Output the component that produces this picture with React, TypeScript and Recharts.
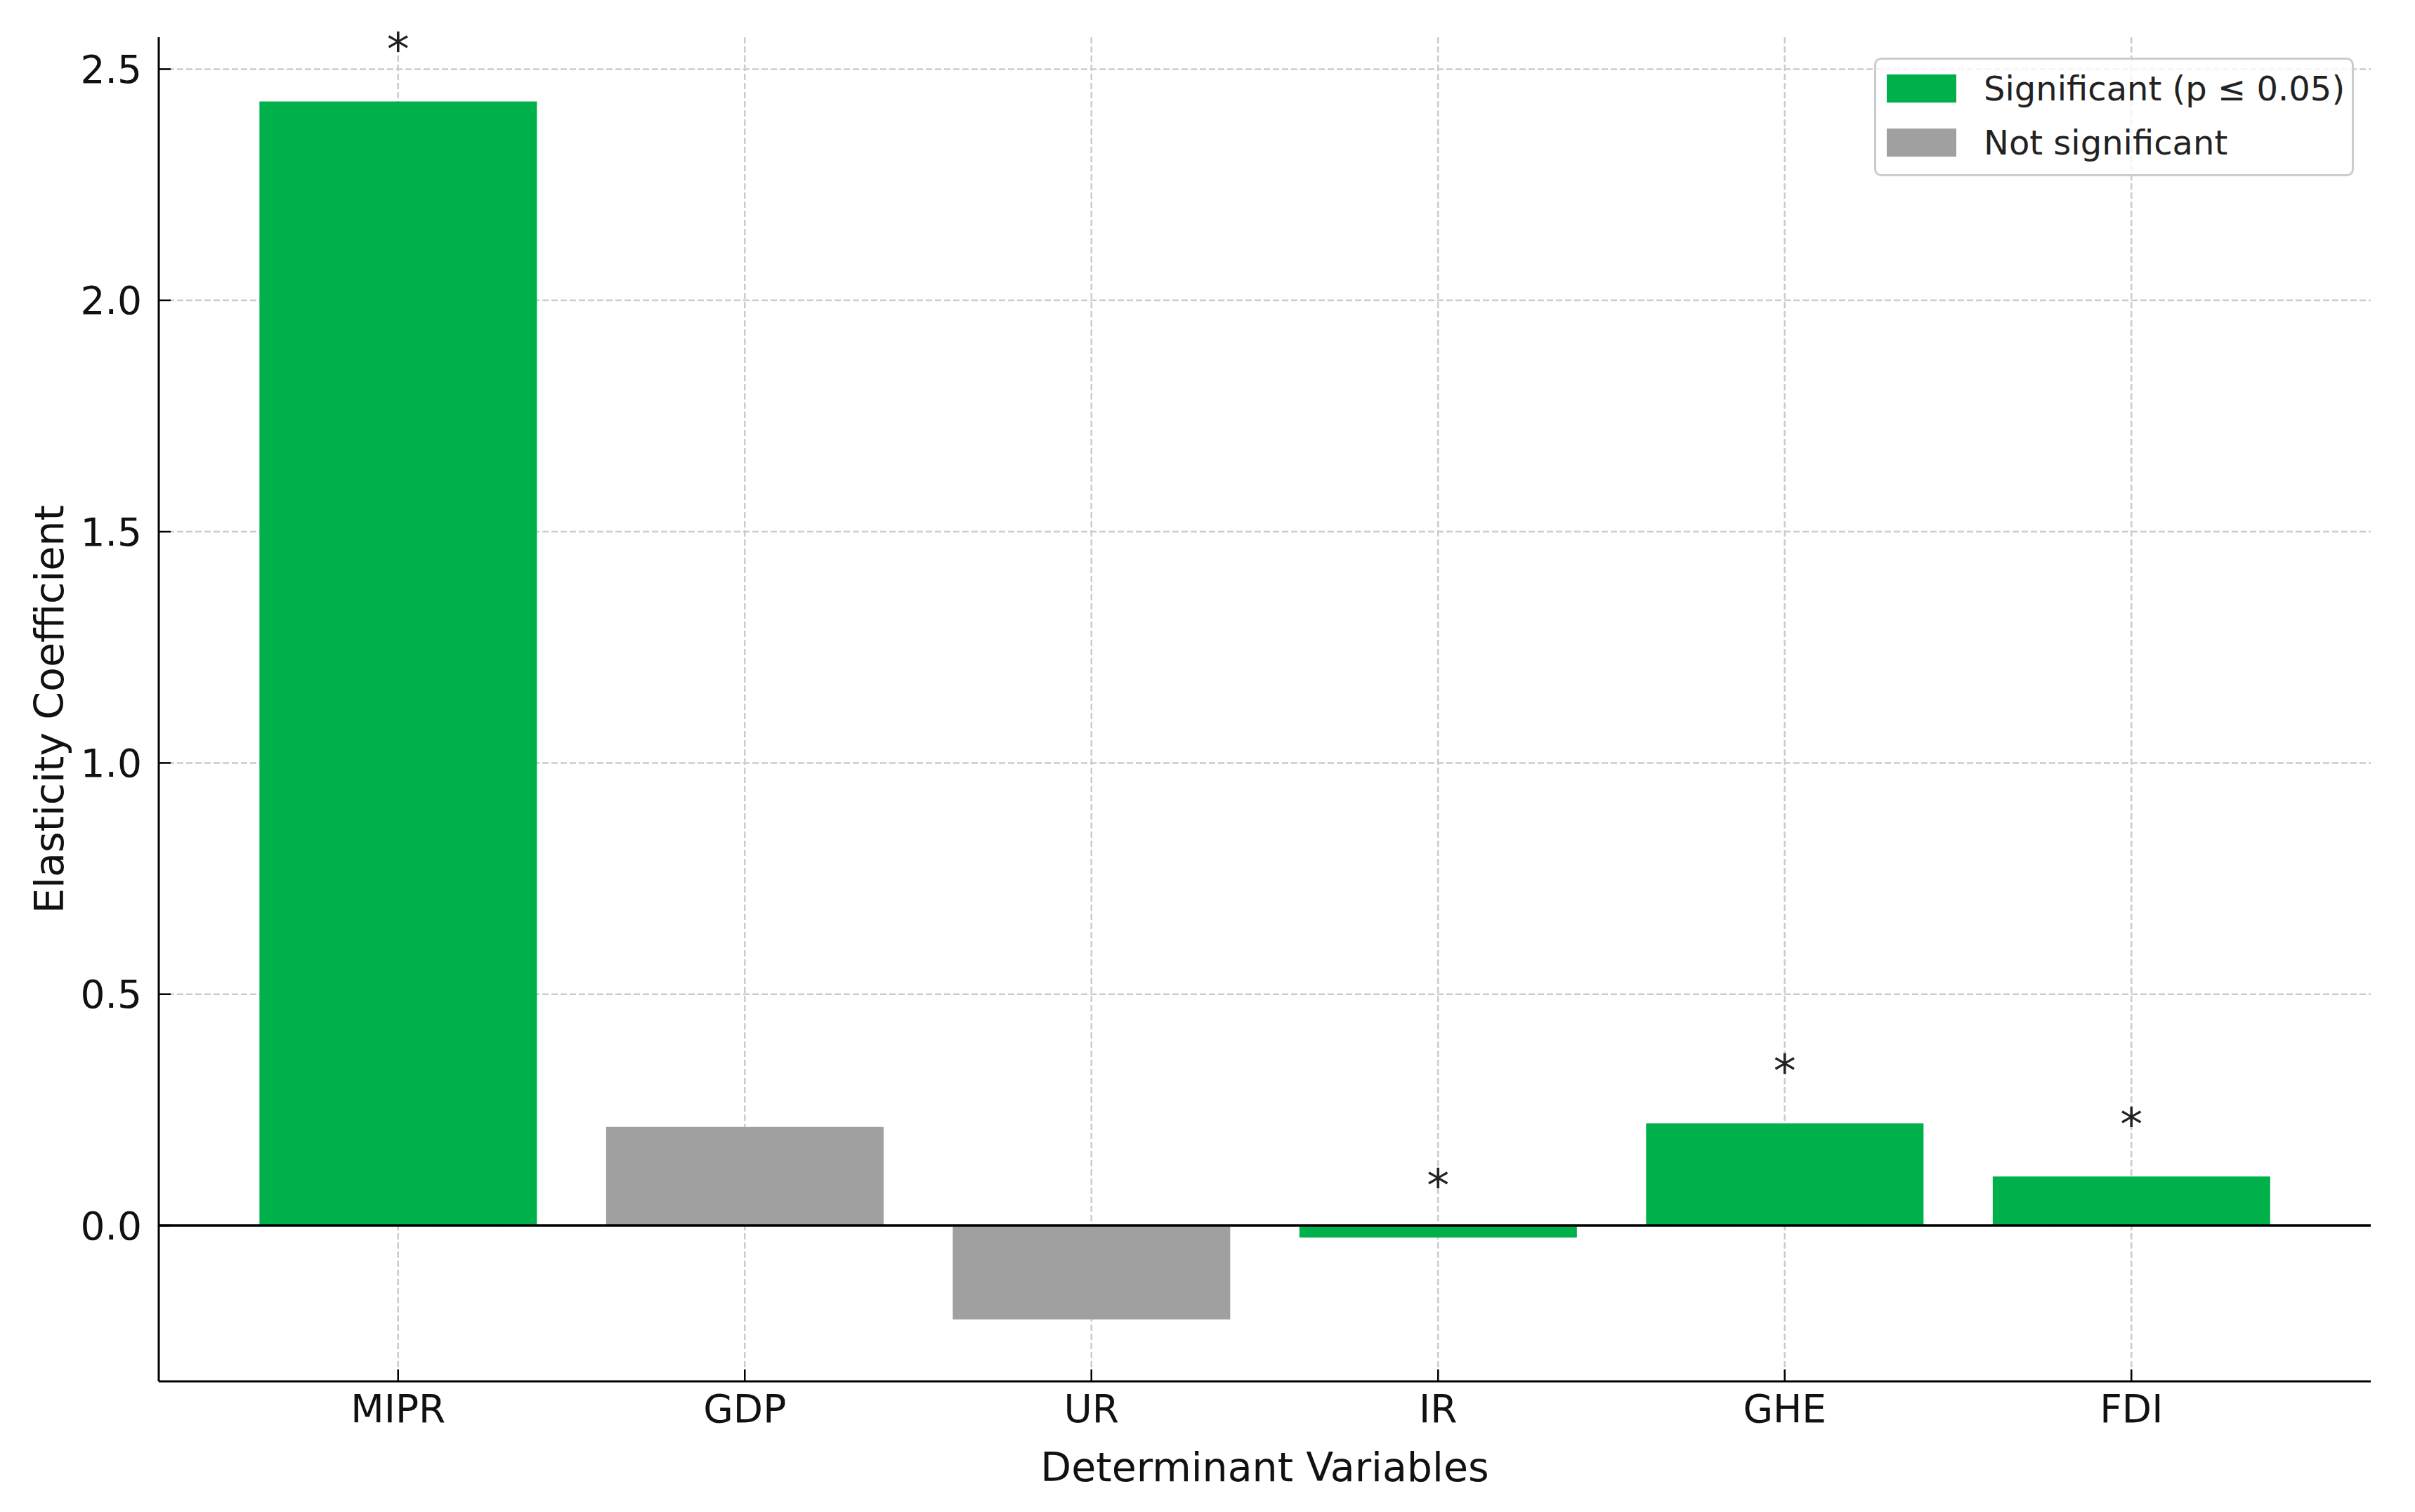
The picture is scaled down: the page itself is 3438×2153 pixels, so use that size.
import React from 'react';
import { ComposedChart, Bar, Cell, Line, XAxis, YAxis, CartesianGrid, ReferenceLine, Legend, Label } from 'recharts';

// values
const categories = ['MIPR', 'GDP', 'UR', 'IR', 'GHE', 'FDI'];
const coefficients = [2.43, 0.213, -0.203, -0.026, 0.221, 0.106];
const significant = [true, false, false, true, true, true];
const yTicks = [0, 0.5, 1.0, 1.5, 2.0, 2.5];
const yDomain = [-0.337, 2.569];
const starOffset = 0.13;

const GREEN = '#00b04a';
const GRAY = '#a0a0a0';
const FONT = '"DejaVu Sans", Verdana, sans-serif';
const TEXT = '#111';

const legendItems = [
  { label: 'Significant (p \u2264 0.05)', color: GREEN },
  { label: 'Not significant', color: GRAY },
];

const data = categories.map((name, i) => ({
  name,
  value: coefficients[i],
  sig: significant[i],
  star: significant[i] ? coefficients[i] + starOffset : null,
}));

const W = 3438;
const H = 2153;

const renderStar = (props: any) => {
  const { cx, cy, payload, index } = props;
  if (cy == null || payload == null || payload.star == null) return <g key={`s-${index}`} />;
  return (
    <text key={`s-${index}`} x={cx} y={cy + 33} textAnchor="middle" fontSize={64} fontFamily={FONT} fill="#222">
      *
    </text>
  );
};

const LegendBox = () => (
  <div
    style={{
      width: 683,
      height: 169,
      boxSizing: 'border-box',
      border: '3px solid #cccccc',
      borderRadius: 10,
      background: 'rgba(255,255,255,0.8)',
      fontFamily: FONT,
      fontSize: 48,
      color: '#222',
      paddingTop: 2,
      paddingLeft: 15,
    }}
  >
    {legendItems.map((it) => (
      <div key={it.label} style={{ display: 'flex', alignItems: 'center', height: 77 }}>
        <span style={{ display: 'inline-block', width: 99, height: 40, background: it.color, marginRight: 39 }} />
        <span style={{ lineHeight: 1 }}>{it.label}</span>
      </div>
    ))}
  </div>
);

const YTitle = (props: any) => {
  const { viewBox } = props;
  const cx = viewBox.x + 70;
  const cy = viewBox.y + viewBox.height / 2;
  return (
    <text x={cx} y={cy} transform={`rotate(-90, ${cx}, ${cy})`} textAnchor="middle" dominantBaseline="central" fontSize={57} fontFamily={FONT} fill={TEXT}>
      Elasticity Coefficient
    </text>
  );
};

const XTitle = (props: any) => {
  const { viewBox } = props;
  const cx = viewBox.x + viewBox.width / 2;
  return (
    <text x={cx} y={viewBox.y + 142} textAnchor="middle" fontSize={57} fontFamily={FONT} fill={TEXT}>
      Determinant Variables
    </text>
  );
};

export default function App() {
  return (
    <div style={{ width: W, height: H, background: '#fff' }}>
      <style>{`body{margin:0;background:#fff}`}</style>
      <ComposedChart width={W} height={H} data={data} margin={{ top: 53, right: 63, bottom: 0, left: 0 }} barCategoryGap="10%">
        <XAxis
          dataKey="name"
          height={186}
          padding={{ left: 94, right: 94 }}
          axisLine={{ stroke: '#000', strokeWidth: 3 }}
          tickLine={{ stroke: '#000', strokeWidth: 2.5 }}
          tickSize={-17}
          tickMargin={36}
          interval={0}
          tick={{ fontSize: 55, fontFamily: FONT, fill: TEXT }}
        >
          <Label content={<XTitle />} />
        </XAxis>
        <YAxis
          type="number"
          width={226}
          domain={yDomain}
          ticks={yTicks}
          interval={0}
          tickFormatter={(v: number) => v.toFixed(1)}
          axisLine={{ stroke: '#000', strokeWidth: 3 }}
          tickLine={{ stroke: '#000', strokeWidth: 2.5 }}
          tickSize={-17}
          tickMargin={41}
          tick={{ fontSize: 55, fontFamily: FONT, fill: TEXT }}
        >
          <Label content={<YTitle />} />
        </YAxis>
        <Bar dataKey="value" isAnimationActive={false}>
          {data.map((d) => (
            <Cell key={d.name} fill={d.sig ? GREEN : GRAY} />
          ))}
        </Bar>
        <CartesianGrid strokeDasharray="9 4" stroke="#cccccc" strokeWidth={2.5} syncWithTicks />
        <ReferenceLine y={0} stroke="#000" strokeWidth={3.5} />
        <Line dataKey="star" stroke="none" dot={renderStar} activeDot={false} isAnimationActive={false} legendType="none" />
        <Legend
          verticalAlign="middle"
          align="center"
          content={() => <LegendBox />}
          wrapperStyle={{ position: 'absolute', left: 2668, top: 82, width: 683, height: 169 }}
        />
      </ComposedChart>
    </div>
  );
}
